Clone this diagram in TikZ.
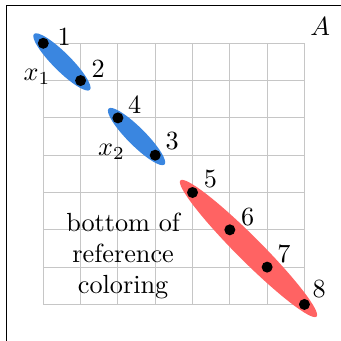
\documentclass[tikz,border=0pt]{standalone}
\usepackage{amsmath,amssymb}
\usepackage{tikz}
\usetikzlibrary{positioning}

\definecolor{blueset}{RGB}{58,134,224}
\definecolor{redset}{RGB}{255,99,99}

\begin{document}
\begin{tikzpicture}[scale=0.5,
    dot/.style={circle, fill=black, inner sep=0pt, minimum size=4.2pt},
    num/.style={inner sep=1pt},
    gridline/.style={gray!45, line width=0.45pt}]
    \useasboundingbox (-1.16, -0.98) rectangle (7.98, 8.16);

    % Frame (only top and left edges are in view)
    \draw[line width=0.5pt] (-0.98, -0.98) -- (-0.98, 8.02) -- (7.98, 8.02);

    % Matrix grid
    \draw[gridline] (0, 0) grid (7, 7);

    % Coloured sets
    \fill[blueset, rotate around={-45:(0.5, 6.5)}] (0.5, 6.5) ellipse (1.06 and 0.24);
    \fill[blueset, rotate around={-45:(2.5, 4.5)}] (2.5, 4.5) ellipse (1.06 and 0.24);
    \fill[redset, rotate around={-45:(5.5, 1.5)}] (5.5, 1.5) ellipse (2.58 and 0.33);

    % Points on the diagonal
    \node[dot] (p1) at (0, 7) {};
    \node[dot] (p2) at (1, 6) {};
    \node[dot] (p4) at (2, 5) {};
    \node[dot] (p3) at (3, 4) {};
    \node[dot] (p5) at (4, 3) {};
    \node[dot] (p6) at (5, 2) {};
    \node[dot] (p7) at (6, 1) {};
    \node[dot] (p8) at (7, 0) {};

    \node[num, above right=-3.6pt and 2.6pt of p1] (n1) {$1$};
    \node[num, above right=-1.5pt and 1.4pt of p2] (n2) {$2$};
    \node[num, above right=-1.1pt and 1.1pt of p4] (n4) {$4$};
    \node[num, above right=-0.6pt and 1.1pt of p3] (n3) {$3$};
    \node[num, above right=-1.1pt and 1.5pt of p5] (n5) {$5$};
    \node[num, above right=-1.3pt and 1.5pt of p6] (n6) {$6$};
    \node[num, above right=-1.1pt and 1.1pt of p7] (n7) {$7$};
    \node[num, above right=0pt and 0.3pt of p8] (n8) {$8$};

    % Set names
    \node (x1) at (-0.17, 6.1) {$x_1$};
    \node (x2) at (1.83, 4.1) {$x_2$};
    \node (mA) at (7.42, 7.46) {$A$};

    \node[align=center] (note) at (2.14, 1.3) {bottom of\\reference\\coloring};
\end{tikzpicture}
\end{document}
